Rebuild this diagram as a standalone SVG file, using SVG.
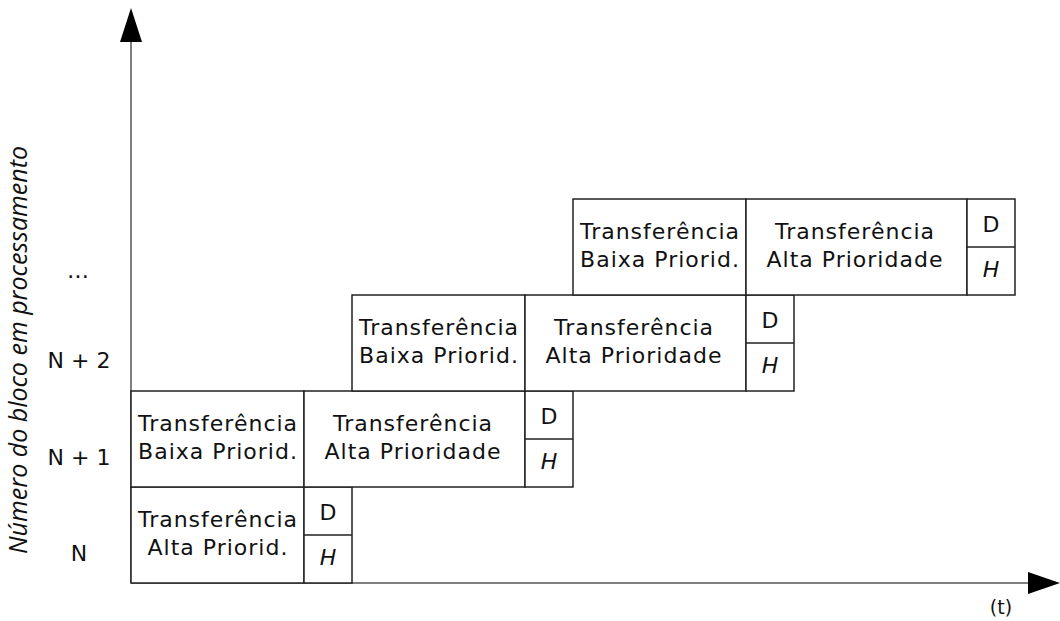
<svg xmlns="http://www.w3.org/2000/svg" width="1060" height="621" viewBox="0 0 1060 621">
  <style>
    .box { fill: #ffffff; stroke: #222222; stroke-width: 1.5; }
    .div { stroke: #222222; stroke-width: 1.5; }
    .axis { stroke: #7f7f7f; stroke-width: 2; fill: none; }
    .head { fill: #000000; }
    text { font-family: "DejaVu Sans", "Open Sans", sans-serif; font-size: 22px; fill: #111111; text-anchor: middle; }
    .t { letter-spacing: 1px; }
    .it { font-style: italic; }
    .ylab { font-family: "Open Sans", "DejaVu Sans", sans-serif; font-style: italic; font-size: 25px; }
  </style>

  <!-- axes -->
  <g id="connectors">
    <line class="axis" x1="131" y1="40" x2="131" y2="583"/>
    <line class="axis" x1="131" y1="583" x2="1030" y2="583"/>
    <polygon class="head" points="131,8 120,42 142,42"/>
    <polygon class="head" points="1060,583 1028,572 1028,594"/>
  </g>

  <!-- axis labels -->
  <g id="labels">
    <text class="ylab" transform="translate(27,350) rotate(-90)">Número do bloco em processamento</text>
    <text x="78" y="278">…</text>
    <text x="79" y="368">N + 2</text>
    <text x="79" y="465">N + 1</text>
    <text x="79" y="561">N</text>
    <text x="1001" y="614" style="font-size:19px">(t)</text>
  </g>

  <!-- block N -->
  <g id="block-n">
    <rect class="box" x="131" y="487" width="173" height="96"/>
    <rect class="box" x="304" y="487" width="48" height="96"/>
    <line class="div" x1="304" y1="535" x2="352" y2="535"/>
    <text class="t" x="218" y="527">Transferência</text>
    <text class="t" x="218" y="555">Alta Priorid.</text>
    <text x="328" y="520">D</text>
    <text class="it" x="328" y="565">H</text>
  </g>

  <!-- block N+1 -->
  <g id="block-n1">
    <rect class="box" x="131" y="391" width="173" height="96"/>
    <rect class="box" x="304" y="391" width="221" height="96"/>
    <rect class="box" x="525" y="391" width="48" height="96"/>
    <line class="div" x1="525" y1="439" x2="573" y2="439"/>
    <text class="t" x="218" y="431">Transferência</text>
    <text class="t" x="218" y="459">Baixa Priorid.</text>
    <text class="t" x="413" y="431">Transferência</text>
    <text class="t" x="413" y="459">Alta Prioridade</text>
    <text x="549" y="424">D</text>
    <text class="it" x="549" y="469">H</text>
  </g>

  <!-- block N+2 -->
  <g id="block-n2">
    <rect class="box" x="352" y="295" width="173" height="96"/>
    <rect class="box" x="525" y="295" width="221" height="96"/>
    <rect class="box" x="746" y="295" width="48" height="96"/>
    <line class="div" x1="746" y1="343" x2="794" y2="343"/>
    <text class="t" x="439" y="335">Transferência</text>
    <text class="t" x="439" y="363">Baixa Priorid.</text>
    <text class="t" x="634" y="335">Transferência</text>
    <text class="t" x="634" y="363">Alta Prioridade</text>
    <text x="770" y="328">D</text>
    <text class="it" x="770" y="373">H</text>
  </g>

  <!-- block N+3 -->
  <g id="block-n3">
    <rect class="box" x="573" y="199" width="173" height="96"/>
    <rect class="box" x="746" y="199" width="221" height="96"/>
    <rect class="box" x="967" y="199" width="48" height="96"/>
    <line class="div" x1="967" y1="247" x2="1015" y2="247"/>
    <text class="t" x="660" y="239">Transferência</text>
    <text class="t" x="660" y="267">Baixa Priorid.</text>
    <text class="t" x="855" y="239">Transferência</text>
    <text class="t" x="855" y="267">Alta Prioridade</text>
    <text x="991" y="232">D</text>
    <text class="it" x="991" y="277">H</text>
  </g>
</svg>
